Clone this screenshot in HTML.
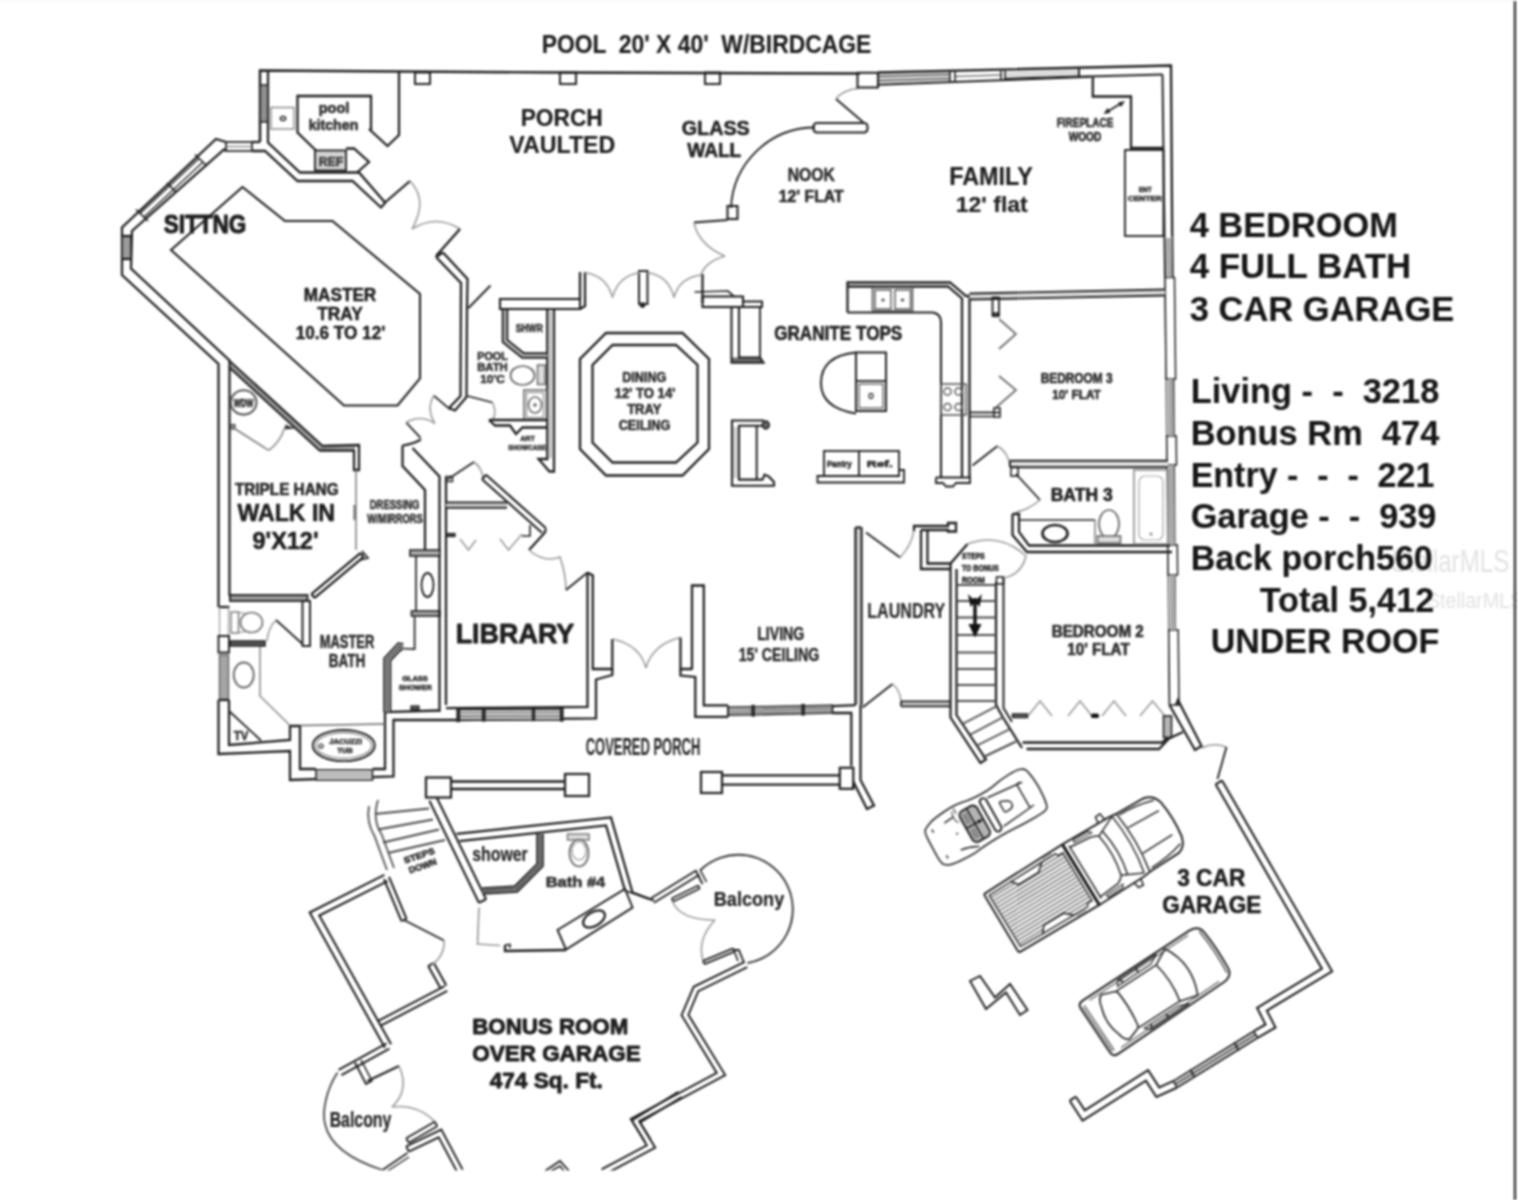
<!DOCTYPE html>
<html><head><meta charset="utf-8"><title>Floor plan</title>
<style>
html,body{margin:0;padding:0;background:#fff;overflow:hidden}
body{width:1518px;height:1200px;position:relative;font-family:"Liberation Sans",sans-serif}
svg{position:absolute;left:0;top:0;filter:blur(0.85px)}
svg text{font-family:"Liberation Sans",sans-serif}
</style></head><body>
<svg width="1518" height="1200" viewBox="0 0 1518 1200" stroke-linejoin="miter" stroke-linecap="butt">
<rect x="0" y="0" width="1518" height="1200" fill="#ffffff"/>
<polyline points="260.0,142.0 260.0,70.5 560.0,72.5 860.0,73.5" fill="none" stroke="#1e1e1e" stroke-width="2.44"/>
<polyline points="268.0,71.5 268.0,142.5 300.0,172.5 359.0,172.5 385.0,202.5" fill="none" stroke="#1e1e1e" stroke-width="2.26"/>
<polyline points="252.0,142.0 260.0,142.0" fill="none" stroke="#1e1e1e" stroke-width="2.26"/>
<polyline points="252.0,151.0 265.0,151.0 297.5,181.0 352.5,181.0 381.0,207.5 385.5,202.5" fill="none" stroke="#1e1e1e" stroke-width="2.26"/>
<rect x="260.0" y="85.0" width="8.0" height="37.0" rx="0" fill="#8f8f8f" stroke="#1e1e1e" stroke-width="1.46"/>
<rect x="271.0" y="107.5" width="23.0" height="21.5" rx="0" fill="none" stroke="#8a8a8a" stroke-width="1.46"/>
<ellipse cx="283" cy="118.5" rx="2.6" ry="2.0" fill="none" stroke="#1e1e1e" stroke-width="1.46"/>
<polyline points="399.0,71.5 399.0,135.0 387.5,146.0 369.0,129.0" fill="none" stroke="#1e1e1e" stroke-width="2.26"/>
<polyline points="371.0,130.0 371.0,96.0 297.5,96.0 297.5,132.5 316.0,150.5" fill="none" stroke="#1e1e1e" stroke-width="2.26"/>
<rect x="315.0" y="150.5" width="31.0" height="20.0" rx="0" fill="#d4d4d4" stroke="#1e1e1e" stroke-width="1.83"/>
<polyline points="346.0,148.5 354.0,148.5 369.0,162.0 357.0,172.5" fill="none" stroke="#1e1e1e" stroke-width="2.26"/>
<rect x="415.0" y="72.5" width="15.0" height="11.5" rx="0" fill="none" stroke="#1e1e1e" stroke-width="1.95"/>
<rect x="560.0" y="72.5" width="16.0" height="11.5" rx="0" fill="none" stroke="#1e1e1e" stroke-width="1.95"/>
<rect x="705.0" y="72.5" width="15.0" height="11.5" rx="0" fill="none" stroke="#1e1e1e" stroke-width="1.95"/>
<text x="318.7" y="113.1" font-size="14.95" font-weight="bold" fill="#333" stroke="#333" stroke-width="0.65" stroke-linejoin="round" textLength="30.6" lengthAdjust="spacingAndGlyphs" xml:space="preserve" >pool</text>
<text x="308.7" y="130.1" font-size="14.95" font-weight="bold" fill="#333" stroke="#333" stroke-width="0.65" stroke-linejoin="round" textLength="49.6" lengthAdjust="spacingAndGlyphs" xml:space="preserve" >kitchen</text>
<text x="318.7" y="165.6" font-size="12.07" font-weight="bold" fill="#444" stroke="#444" stroke-width="0.65" stroke-linejoin="round" textLength="24.6" lengthAdjust="spacingAndGlyphs" xml:space="preserve" >REF</text>
<polyline points="385.0,202.5 410.0,181.0" fill="none" stroke="#1e1e1e" stroke-width="2.26"/>
<path d="M410,181 Q424,196 418,215 Q415,224 412,229" fill="none" stroke="#9a9a9a" stroke-width="1.59" />
<path d="M412,229 Q436,214 460,229" fill="none" stroke="#9a9a9a" stroke-width="1.59" />
<polyline points="460.0,229.0 436.0,256.0" fill="none" stroke="#1e1e1e" stroke-width="2.26"/>
<rect x="226.0" y="142.0" width="26.0" height="9.0" rx="0" fill="none" stroke="#1e1e1e" stroke-width="1.71"/>
<polyline points="226.0,146.5 252.0,146.5" fill="none" stroke="#5a5a5a" stroke-width="0.98"/>
<polyline points="226.0,142.0 216.0,139.0 122.0,227.5 122.0,275.0 218.5,364.0 218.5,607.0" fill="none" stroke="#1e1e1e" stroke-width="2.26"/>
<polyline points="226.0,151.0 224.0,149.5 132.0,231.0 131.0,268.5 229.5,360.5 229.5,596.0" fill="none" stroke="#1e1e1e" stroke-width="2.26"/>
<polyline points="199.0,158.5 140.0,213.5" fill="none" stroke="#1e1e1e" stroke-width="1.22"/>
<polyline points="203.0,162.0 144.0,217.0" fill="none" stroke="#1e1e1e" stroke-width="1.22"/>
<polyline points="195.0,154.5 207.0,166.0" fill="none" stroke="#1e1e1e" stroke-width="1.71"/>
<polyline points="136.0,209.5 148.0,221.0" fill="none" stroke="#1e1e1e" stroke-width="1.71"/>
<polyline points="167.0,183.0 176.0,192.0" fill="none" stroke="#1e1e1e" stroke-width="1.71"/>
<rect x="122.0" y="236.0" width="9.0" height="23.0" rx="0" fill="#9a9a9a" stroke="#1e1e1e" stroke-width="1.46"/>
<polyline points="122.0,236.0 131.0,236.0" fill="none" stroke="#1e1e1e" stroke-width="2.26"/>
<polyline points="122.0,259.0 131.0,259.0" fill="none" stroke="#1e1e1e" stroke-width="2.26"/>
<text x="163.7" y="233.1" font-size="24.94" font-weight="bold" fill="#1e1e1e" stroke="#1e1e1e" stroke-width="1.00" stroke-linejoin="round" textLength="82.6" lengthAdjust="spacingAndGlyphs" xml:space="preserve" >SITTNG</text>
<polygon points="242.5,187.0 171.0,250.0 344.0,405.5 397.5,405.5 420.0,378.5 420.0,294.0 332.5,221.0 285.0,221.0" fill="none" stroke="#1e1e1e" stroke-width="2.07"/>
<text x="303.7" y="300.6" font-size="17.82" font-weight="bold" fill="#1e1e1e" stroke="#1e1e1e" stroke-width="0.45" stroke-linejoin="round" textLength="72.6" lengthAdjust="spacingAndGlyphs" xml:space="preserve" >MASTER</text>
<text x="317.2" y="319.6" font-size="17.82" font-weight="bold" fill="#1e1e1e" stroke="#1e1e1e" stroke-width="0.45" stroke-linejoin="round" textLength="45.6" lengthAdjust="spacingAndGlyphs" xml:space="preserve" >TRAY</text>
<text x="295.7" y="339.4" font-size="18.4" font-weight="bold" fill="#1e1e1e" stroke="#1e1e1e" stroke-width="0.45" stroke-linejoin="round" textLength="89.6" lengthAdjust="spacingAndGlyphs" xml:space="preserve" >10.6 TO 12'</text>
<polyline points="229.5,361.0 322.5,446.0 359.0,445.0 359.0,470.0 354.0,470.0 354.0,450.5 320.0,450.5 229.5,367.5" fill="none" stroke="#1e1e1e" stroke-width="2.26"/>
<polyline points="229.5,364.3 321.3,448.3 355.0,447.8" fill="none" stroke="#444" stroke-width="1.10"/>
<polyline points="356.0,470.0 356.0,550.0" fill="none" stroke="#777" stroke-width="1.46"/>
<polyline points="354.5,505.0 354.5,520.0" fill="none" stroke="#666" stroke-width="1.95"/>
<polyline points="360.4,553.1 311.4,594.1" fill="none" stroke="#1e1e1e" stroke-width="2.26"/>
<polyline points="363.6,556.9 314.6,597.9" fill="none" stroke="#1e1e1e" stroke-width="2.26"/>
<polyline points="360.4,553.1 363.6,556.9" fill="none" stroke="#1e1e1e" stroke-width="2.26"/>
<polyline points="311.4,594.1 314.6,597.9" fill="none" stroke="#1e1e1e" stroke-width="2.26"/>
<polyline points="362.0,551.0 368.0,558.0 360.0,560.0" fill="none" stroke="#1e1e1e" stroke-width="1.71"/>
<ellipse cx="243.6" cy="402.4" rx="12.8" ry="12.2" fill="none" stroke="#555" stroke-width="2.07"/>
<text x="233.7" y="406.6" font-size="10.08" font-weight="bold" fill="#2a2a2a" stroke="#2a2a2a" stroke-width="0.65" stroke-linejoin="round" textLength="19.6" lengthAdjust="spacingAndGlyphs" xml:space="preserve" >WDW</text>
<rect x="230.5" y="424.5" width="4.5" height="4.5" rx="0" fill="#888" stroke="#555" stroke-width="1.22"/>
<polygon points="285,424.5 295.5,428.5 285,429.5" fill="#333"/>
<polyline points="234.5,428.5 268.7,450.4" fill="none" stroke="#7d7d7d" stroke-width="1.71"/>
<path d="M268.7,450.4 Q281,441 284.5,427.7" fill="none" stroke="#9a9a9a" stroke-width="1.83" />
<text x="235.0" y="495.1" font-size="16.1" font-weight="bold" fill="#2a2a2a" stroke="#2a2a2a" stroke-width="0.65" stroke-linejoin="round" textLength="103.6" lengthAdjust="spacingAndGlyphs" xml:space="preserve" >TRIPLE HANG</text>
<text x="237.5" y="521.3" font-size="23.43" font-weight="bold" fill="#1e1e1e" stroke="#1e1e1e" stroke-width="0.60" stroke-linejoin="round" textLength="97.5" lengthAdjust="spacingAndGlyphs" xml:space="preserve" >WALK IN</text>
<text x="252.5" y="549.4" font-size="23.66" font-weight="bold" fill="#1e1e1e" stroke="#1e1e1e" stroke-width="0.60" stroke-linejoin="round" textLength="66.0" lengthAdjust="spacingAndGlyphs" xml:space="preserve" >9'X12'</text>
<text x="369.7" y="508.6" font-size="12.65" font-weight="bold" fill="#333" stroke="#333" stroke-width="0.65" stroke-linejoin="round" textLength="49.6" lengthAdjust="spacingAndGlyphs" xml:space="preserve" >DRESSING</text>
<text x="367.2" y="522.6" font-size="12.65" font-weight="bold" fill="#333" stroke="#333" stroke-width="0.65" stroke-linejoin="round" textLength="55.6" lengthAdjust="spacingAndGlyphs" xml:space="preserve" >W/MIRRORS</text>
<polyline points="218.5,607.0 229.5,607.0" fill="none" stroke="#1e1e1e" stroke-width="2.26"/>
<polyline points="219.5,607.0 219.5,636.0" fill="none" stroke="#999" stroke-width="1.22"/>
<polyline points="228.5,607.0 228.5,636.0" fill="none" stroke="#999" stroke-width="1.22"/>
<rect x="218.5" y="636.0" width="10.5" height="16.5" rx="0" fill="none" stroke="#1e1e1e" stroke-width="1.95"/>
<rect x="219.5" y="655.0" width="9.0" height="45.0" rx="0" fill="#a5a5a5" stroke="#666" stroke-width="1.46"/>
<polyline points="218.5,700.0 218.5,754.0 290.0,751.0 290.0,780.0 393.5,776.5 393.5,720.0 457.5,720.0" fill="none" stroke="#1e1e1e" stroke-width="2.26"/>
<polyline points="229.0,700.0 229.0,745.0 290.0,740.0 290.0,726.0 300.0,726.0 300.0,769.0 316.0,769.0" fill="none" stroke="#1e1e1e" stroke-width="2.26"/>
<polyline points="218.5,700.0 229.0,700.0" fill="none" stroke="#1e1e1e" stroke-width="2.26"/>
<polyline points="372.5,769.0 385.0,769.0 385.0,712.0 439.5,710.5" fill="none" stroke="#1e1e1e" stroke-width="2.26"/>
<rect x="316.0" y="770.0" width="56.5" height="10.0" rx="0" fill="#f0f0f0" stroke="#1e1e1e" stroke-width="1.59"/>
<polyline points="316.0,773.5 372.5,773.5" fill="none" stroke="#555" stroke-width="1.10"/>
<polyline points="316.0,776.5 372.5,776.5" fill="none" stroke="#555" stroke-width="1.10"/>
<polyline points="300.0,725.5 385.0,724.0" fill="none" stroke="#666" stroke-width="1.59"/>
<ellipse cx="343.75" cy="745.5" rx="31" ry="15.6" fill="none" stroke="#1e1e1e" stroke-width="1.95"/>
<ellipse cx="343.75" cy="745.5" rx="28" ry="12.8" fill="none" stroke="#777" stroke-width="1.22"/>
<ellipse cx="321" cy="746" rx="2" ry="2" fill="none" stroke="#1e1e1e" stroke-width="1.22"/>
<text x="329.2" y="744.1" font-size="6.72" font-weight="bold" fill="#444" stroke="#444" stroke-width="0.65" stroke-linejoin="round" textLength="32.6" lengthAdjust="spacingAndGlyphs" xml:space="preserve" >JACUZZI</text>
<text x="337.2" y="752.6" font-size="6.72" font-weight="bold" fill="#444" stroke="#444" stroke-width="0.65" stroke-linejoin="round" textLength="15.6" lengthAdjust="spacingAndGlyphs" xml:space="preserve" >TUB</text>
<polyline points="229.0,711.0 261.0,740.5" fill="none" stroke="#1e1e1e" stroke-width="1.71"/>
<text x="233.7" y="740.1" font-size="13.22" font-weight="bold" fill="#333" stroke="#333" stroke-width="0.65" stroke-linejoin="round" textLength="14.6" lengthAdjust="spacingAndGlyphs" xml:space="preserve" >TV</text>
<polyline points="260.0,642.5 260.0,696.0 290.0,725.5" fill="none" stroke="#8c8c8c" stroke-width="1.59"/>
<ellipse cx="243.75" cy="675" rx="10" ry="12.5" fill="none" stroke="#666" stroke-width="1.83"/>
<rect x="231.0" y="612.0" width="7.5" height="21.0" rx="0" fill="none" stroke="#777" stroke-width="1.46"/>
<ellipse cx="251.5" cy="622.5" rx="11" ry="10" fill="none" stroke="#777" stroke-width="1.71"/>
<polyline points="238.5,612.5 246.0,613.5" fill="none" stroke="#888" stroke-width="1.22"/>
<polyline points="238.5,632.5 246.0,631.5" fill="none" stroke="#888" stroke-width="1.22"/>
<rect x="230.0" y="595.0" width="77.5" height="6.0" rx="0" fill="#9c9c9c" stroke="#1e1e1e" stroke-width="1.83"/>
<rect x="302.5" y="601.0" width="7.5" height="45.0" rx="0" fill="none" stroke="#1e1e1e" stroke-width="1.95"/>
<polyline points="302.5,644.0 276.0,620.0" fill="none" stroke="#1e1e1e" stroke-width="1.71"/>
<path d="M276,620 Q268,628 267,641" fill="none" stroke="#9a9a9a" stroke-width="1.59" />
<rect x="230.0" y="641.0" width="35.0" height="5.0" rx="0" fill="#555" stroke="#1e1e1e" stroke-width="1.46"/>
<text x="319.7" y="648.1" font-size="17.82" font-weight="bold" fill="#2a2a2a" stroke="#2a2a2a" stroke-width="0.45" stroke-linejoin="round" textLength="54.6" lengthAdjust="spacingAndGlyphs" xml:space="preserve" >MASTER</text>
<text x="328.7" y="666.6" font-size="17.82" font-weight="bold" fill="#2a2a2a" stroke="#2a2a2a" stroke-width="0.45" stroke-linejoin="round" textLength="36.6" lengthAdjust="spacingAndGlyphs" xml:space="preserve" >BATH</text>
<polyline points="416.0,556.0 416.0,611.0" fill="none" stroke="#1e1e1e" stroke-width="1.71"/>
<ellipse cx="427.5" cy="585" rx="6" ry="12" fill="none" stroke="#1e1e1e" stroke-width="1.83"/>
<rect x="410.0" y="550.0" width="30.0" height="6.0" rx="0" fill="#a8a8a8" stroke="#1e1e1e" stroke-width="1.59"/>
<rect x="411.5" y="611.0" width="28.5" height="5.0" rx="0" fill="#a8a8a8" stroke="#1e1e1e" stroke-width="1.59"/>
<polyline points="414.6,617.0 414.6,649.0 402.0,648.5" fill="none" stroke="#1e1e1e" stroke-width="1.71"/>
<polygon points="403.4,643.9 398.3,643.2 384.2,658.3 384.2,712.0 390.4,712.0 390.4,660.7 400.7,649.8 402.6,650.1" fill="#c6c6c6" stroke="none"/>
<polyline points="403.4,643.9 398.3,643.2 384.2,658.3 384.2,712.0" fill="none" stroke="#1e1e1e" stroke-width="1.83"/>
<polyline points="402.6,650.1 400.7,649.8 390.4,660.7 390.4,712.0" fill="none" stroke="#1e1e1e" stroke-width="1.83"/>
<polyline points="403.0,647.0 399.5,646.5 387.3,659.5 387.3,712.0" fill="none" stroke="#1e1e1e" stroke-width="1.28"/>
<text x="402.2" y="680.9" font-size="7.62" font-weight="bold" fill="#3a3a3a" stroke="#3a3a3a" stroke-width="0.65" stroke-linejoin="round" textLength="25.6" lengthAdjust="spacingAndGlyphs" xml:space="preserve" >GLASS</text>
<text x="398.7" y="690.4" font-size="7.62" font-weight="bold" fill="#3a3a3a" stroke="#3a3a3a" stroke-width="0.65" stroke-linejoin="round" textLength="33.1" lengthAdjust="spacingAndGlyphs" xml:space="preserve" >SHOWER</text>
<rect x="411.0" y="706.0" width="8.0" height="4.0" rx="0" fill="#555" stroke="#1e1e1e" stroke-width="1.22"/>
<polyline points="436.0,257.0 443.0,252.5" fill="none" stroke="#1e1e1e" stroke-width="2.26"/>
<polyline points="436.0,257.0 461.0,283.0 460.5,396.0 449.0,408.0" fill="none" stroke="#1e1e1e" stroke-width="2.26"/>
<polyline points="443.0,252.5 467.5,279.0 467.0,307.0 466.5,397.0 455.0,410.5 449.0,408.0" fill="none" stroke="#1e1e1e" stroke-width="2.26"/>
<polyline points="468.5,308.0 490.5,285.5" fill="none" stroke="#1e1e1e" stroke-width="1.83"/>
<polyline points="467.5,396.0 492.5,402.5" fill="none" stroke="#1e1e1e" stroke-width="1.71"/>
<path d="M492.5,402.5 Q497,412 493,419" fill="none" stroke="#9a9a9a" stroke-width="1.59" />
<polyline points="433.8,395.6 450.0,409.4" fill="none" stroke="#1e1e1e" stroke-width="1.83"/>
<polyline points="406.2,422.5 420.5,437.8" fill="none" stroke="#1e1e1e" stroke-width="1.83"/>
<path d="M433.75,395.6 Q426,409 435,423.5" fill="none" stroke="#9a9a9a" stroke-width="1.59" />
<path d="M406.25,422.5 Q421,414 435,423.5" fill="none" stroke="#9a9a9a" stroke-width="1.59" />
<rect x="500.0" y="299.0" width="80.0" height="10.0" rx="0" fill="#ffffff" stroke="#1e1e1e" stroke-width="2.07"/>
<polyline points="580.0,272.0 580.0,299.0" fill="none" stroke="#1e1e1e" stroke-width="2.26"/>
<polyline points="585.0,272.0 585.0,306.0 580.0,309.0" fill="none" stroke="#1e1e1e" stroke-width="2.26"/>
<polyline points="547.3,309.0 547.3,459.0 538.5,459.0 549.5,471.5 554.0,471.5 554.0,309.0" fill="none" stroke="#1e1e1e" stroke-width="2.26"/>
<polyline points="550.6,311.0 550.6,458.0" fill="none" stroke="#777" stroke-width="1.10"/>
<polygon points="502.7,310.0 502.7,342.1 522.2,357.8 547.3,357.8 547.3,353.2 523.8,353.2 507.3,339.9 507.3,310.0" fill="#bdbdbd" stroke="none"/>
<polyline points="502.7,310.0 502.7,342.1 522.2,357.8 547.3,357.8" fill="none" stroke="#1e1e1e" stroke-width="1.95"/>
<polyline points="507.3,310.0 507.3,339.9 523.8,353.2 547.3,353.2" fill="none" stroke="#1e1e1e" stroke-width="1.95"/>
<text x="515.7" y="331.6" font-size="10.64" font-weight="bold" fill="#3a3a3a" stroke="#3a3a3a" stroke-width="0.65" stroke-linejoin="round" textLength="27.1" lengthAdjust="spacingAndGlyphs" xml:space="preserve" >SHWR</text>
<text x="477.2" y="359.6" font-size="10.64" font-weight="bold" fill="#3a3a3a" stroke="#3a3a3a" stroke-width="0.65" stroke-linejoin="round" textLength="30.6" lengthAdjust="spacingAndGlyphs" xml:space="preserve" >POOL</text>
<text x="477.2" y="371.1" font-size="10.64" font-weight="bold" fill="#3a3a3a" stroke="#3a3a3a" stroke-width="0.65" stroke-linejoin="round" textLength="30.6" lengthAdjust="spacingAndGlyphs" xml:space="preserve" >BATH</text>
<text x="480.2" y="383.1" font-size="10.64" font-weight="bold" fill="#3a3a3a" stroke="#3a3a3a" stroke-width="0.65" stroke-linejoin="round" textLength="24.6" lengthAdjust="spacingAndGlyphs" xml:space="preserve" >10'C</text>
<ellipse cx="522.5" cy="375.5" rx="12" ry="9.5" fill="none" stroke="#666" stroke-width="1.71"/>
<rect x="537.5" y="365.0" width="7.5" height="19.5" rx="0" fill="#ddd" stroke="#666" stroke-width="1.46"/>
<rect x="524.0" y="390.0" width="22.5" height="30.0" rx="0" fill="none" stroke="#666" stroke-width="1.59"/>
<rect x="526.5" y="392.5" width="17.0" height="25.0" rx="0" fill="none" stroke="#888" stroke-width="1.22"/>
<ellipse cx="535" cy="405" rx="6.5" ry="8" fill="none" stroke="#666" stroke-width="1.59"/>
<ellipse cx="535" cy="405" rx="1.2" ry="1.2" fill="#666" stroke="#666" stroke-width="1.22"/>
<polyline points="489.0,420.0 547.3,420.0" fill="none" stroke="#1e1e1e" stroke-width="2.26"/>
<polyline points="489.0,420.0 495.0,425.5 510.0,425.5 516.0,434.0 522.5,427.5 547.3,427.5" fill="none" stroke="#1e1e1e" stroke-width="2.26"/>
<text x="520.2" y="441.1" font-size="6.72" font-weight="bold" fill="#444" stroke="#444" stroke-width="0.65" stroke-linejoin="round" textLength="14.6" lengthAdjust="spacingAndGlyphs" xml:space="preserve" >ART</text>
<text x="508.2" y="449.6" font-size="6.72" font-weight="bold" fill="#444" stroke="#444" stroke-width="0.65" stroke-linejoin="round" textLength="37.6" lengthAdjust="spacingAndGlyphs" xml:space="preserve" >SHOWCASE</text>
<rect x="639.0" y="271.0" width="8.5" height="33.0" rx="0" fill="none" stroke="#1e1e1e" stroke-width="1.95"/>
<ellipse cx="642.5" cy="305" rx="2.2" ry="2.2" fill="#222" stroke="#222" stroke-width="1.22"/>
<path d="M585,272.5 Q607,276 612.5,297.5" fill="none" stroke="#9a9a9a" stroke-width="1.59" />
<path d="M640,272.5 Q618,276 612.5,297.5" fill="none" stroke="#9a9a9a" stroke-width="1.59" />
<path d="M647.5,272.5 Q669,276 674,297.5" fill="none" stroke="#9a9a9a" stroke-width="1.59" />
<path d="M701,275 Q679,278 674,297.5" fill="none" stroke="#9a9a9a" stroke-width="1.59" />
<polyline points="702.5,274.0 702.5,303.0" fill="none" stroke="#1e1e1e" stroke-width="2.26"/>
<polyline points="694.5,292.0 728.0,291.0 734.0,296.5" fill="none" stroke="#1e1e1e" stroke-width="1.71"/>
<rect x="702.5" y="296.5" width="40.5" height="10.5" rx="0" fill="none" stroke="#1e1e1e" stroke-width="2.07"/>
<polyline points="743.0,301.5 762.0,301.5 762.0,307.0 743.0,307.0" fill="none" stroke="#1e1e1e" stroke-width="1.95"/>
<polygon points="731.5,357.5 760,357.5 763.5,362.8 731.5,362.8" fill="#6e6e6e"/>
<polyline points="731.5,307.0 731.5,362.8 763.5,362.8 760.0,357.5 739.0,357.5 739.0,307.0" fill="none" stroke="#1e1e1e" stroke-width="2.07"/>
<polyline points="760.0,307.0 760.0,357.5" fill="none" stroke="#1e1e1e" stroke-width="1.83"/>
<rect x="733.3" y="427" width="4.4" height="51" fill="#cfcfcf"/>
<polyline points="764.0,420.5 732.0,420.5 732.0,485.8 774.0,485.8 774.0,482.0 769.0,476.7 764.5,474.6 762.5,479.6 739.0,479.6 739.0,425.8 762.0,425.8" fill="none" stroke="#1e1e1e" stroke-width="2.07"/>
<polyline points="756.7,425.8 756.7,479.6" fill="none" stroke="#1e1e1e" stroke-width="1.95"/>
<ellipse cx="765.8" cy="425" rx="3.3" ry="3.8" fill="#6a6a6a" stroke="#1e1e1e" stroke-width="1.71"/>
<polygon points="606.0,333.0 682.5,333.0 709.0,359.0 709.0,449.0 682.5,475.5 606.0,475.5 580.0,449.0 580.0,359.0" fill="none" stroke="#1e1e1e" stroke-width="2.32"/>
<polygon points="612.5,345.0 676.0,345.0 697.5,365.0 697.5,442.5 676.0,462.5 612.5,462.5 592.5,442.5 592.5,365.0" fill="none" stroke="#1e1e1e" stroke-width="2.32"/>
<text x="622.2" y="381.6" font-size="13.8" font-weight="bold" fill="#333" stroke="#333" stroke-width="0.65" stroke-linejoin="round" textLength="44.1" lengthAdjust="spacingAndGlyphs" xml:space="preserve" >DINING</text>
<text x="614.7" y="398.1" font-size="13.8" font-weight="bold" fill="#333" stroke="#333" stroke-width="0.65" stroke-linejoin="round" textLength="60.6" lengthAdjust="spacingAndGlyphs" xml:space="preserve" >12' TO 14'</text>
<text x="627.2" y="413.6" font-size="13.8" font-weight="bold" fill="#333" stroke="#333" stroke-width="0.65" stroke-linejoin="round" textLength="34.1" lengthAdjust="spacingAndGlyphs" xml:space="preserve" >TRAY</text>
<text x="618.7" y="430.1" font-size="13.8" font-weight="bold" fill="#333" stroke="#333" stroke-width="0.65" stroke-linejoin="round" textLength="51.6" lengthAdjust="spacingAndGlyphs" xml:space="preserve" >CEILING</text>
<path d="M402.5,445.5 Q413,444 421,439.5" fill="none" stroke="#1e1e1e" stroke-width="2.07" />
<polyline points="412.5,448.0 439.5,476.5 439.5,550.0" fill="none" stroke="#1e1e1e" stroke-width="2.26"/>
<polyline points="402.5,445.5 402.5,466.0 425.0,490.0 425.0,550.0" fill="none" stroke="#1e1e1e" stroke-width="2.26"/>
<polyline points="446.0,477.0 446.0,705.0" fill="none" stroke="#1e1e1e" stroke-width="2.26"/>
<polyline points="439.5,556.0 439.5,712.0" fill="none" stroke="#1e1e1e" stroke-width="2.26"/>
<rect x="446.0" y="476.5" width="6.5" height="5.0" rx="0" fill="none" stroke="#1e1e1e" stroke-width="1.46"/>
<polyline points="447.5,479.5 474.0,462.0" fill="none" stroke="#1e1e1e" stroke-width="1.71"/>
<path d="M474,462 Q482,468 483,478" fill="none" stroke="#9a9a9a" stroke-width="1.59" />
<polygon points="446.0,507.9 507.0,507.9 507.0,502.4 446.0,502.4" fill="#c4c4c4" stroke="none"/>
<polyline points="446.0,507.9 507.0,507.9" fill="none" stroke="#1e1e1e" stroke-width="1.83"/>
<polyline points="446.0,502.4 507.0,502.4" fill="none" stroke="#1e1e1e" stroke-width="1.83"/>
<polyline points="482.0,479.2 542.0,532.7" fill="none" stroke="#1e1e1e" stroke-width="2.07"/>
<polyline points="486.0,474.8 546.0,528.3" fill="none" stroke="#1e1e1e" stroke-width="2.07"/>
<polyline points="482.0,479.2 486.0,474.8" fill="none" stroke="#1e1e1e" stroke-width="2.07"/>
<polyline points="546.0,529.0 544.5,533.0 529.0,550.0" fill="none" stroke="#1e1e1e" stroke-width="2.26"/>
<polyline points="530.0,525.0 530.0,536.0 522.0,536.0" fill="none" stroke="#1e1e1e" stroke-width="1.59"/>
<rect x="446.0" y="533.5" width="9.0" height="3.0" rx="0" fill="#444" stroke="#1e1e1e" stroke-width="1.22"/>
<polyline points="460.0,539.0 468.5,550.0 476.0,540.0" fill="none" stroke="#9a9a9a" stroke-width="1.59"/>
<polyline points="500.0,539.0 508.5,550.0 522.0,534.0" fill="none" stroke="#9a9a9a" stroke-width="1.59"/>
<path d="M530,551 Q545,563 560,557 Q566,575 566,590" fill="none" stroke="#9a9a9a" stroke-width="1.59" />
<polyline points="566.0,590.0 587.5,572.5" fill="none" stroke="#1e1e1e" stroke-width="1.83"/>
<polyline points="587.5,572.5 592.8,575.5 592.8,669.0 612.3,669.0 612.3,639.0" fill="none" stroke="#1e1e1e" stroke-width="2.26"/>
<polyline points="587.5,572.5 587.5,706.8 446.0,708.2" fill="none" stroke="#1e1e1e" stroke-width="2.26"/>
<polyline points="612.3,669.0 612.3,675.0 596.0,679.5 596.0,718.3 457.5,720.0" fill="none" stroke="#1e1e1e" stroke-width="2.26"/>
<rect x="458.5" y="709.3" width="103.5" height="10.7" rx="0" fill="#dedede" stroke="#1e1e1e" stroke-width="1.59"/>
<polyline points="458.5,712.8 562.0,712.8" fill="none" stroke="#444" stroke-width="1.10"/>
<polyline points="458.5,716.4 562.0,716.4" fill="none" stroke="#444" stroke-width="1.10"/>
<rect x="482.5" y="707.5" width="2.5" height="13.5" rx="0" fill="#333" stroke="#1e1e1e" stroke-width="1.22"/>
<rect x="532.5" y="708.0" width="2.0" height="12.5" rx="0" fill="#444" stroke="#1e1e1e" stroke-width="1.22"/>
<rect x="560.5" y="707.5" width="2.5" height="13.5" rx="0" fill="#333" stroke="#1e1e1e" stroke-width="1.22"/>
<rect x="457.0" y="708.0" width="2.5" height="13.5" rx="0" fill="#333" stroke="#1e1e1e" stroke-width="1.22"/>
<text x="455.7" y="643.1" font-size="28.42" font-weight="bold" fill="#1e1e1e" stroke="#1e1e1e" stroke-width="0.80" stroke-linejoin="round" textLength="118.6" lengthAdjust="spacingAndGlyphs" xml:space="preserve" >LIBRARY</text>
<path d="M612.5,639 Q640,645 646,668" fill="none" stroke="#9a9a9a" stroke-width="1.59" />
<path d="M680,637.5 Q652,645 646,668" fill="none" stroke="#9a9a9a" stroke-width="1.59" />
<polyline points="680.5,637.5 680.5,669.0 692.5,669.0" fill="none" stroke="#1e1e1e" stroke-width="2.26"/>
<polyline points="680.5,669.0 680.5,675.5 695.3,677.0 695.3,716.9 728.0,716.9" fill="none" stroke="#1e1e1e" stroke-width="2.26"/>
<polyline points="692.0,669.0 692.0,585.5 703.8,585.5 703.8,705.4 728.0,705.4" fill="none" stroke="#1e1e1e" stroke-width="2.26"/>
<polygon points="728,707.3 832.5,705.3 832.5,713 728,715.3" fill="#dcdcdc"/>
<polyline points="728.0,707.3 832.5,705.3" fill="none" stroke="#1e1e1e" stroke-width="1.59"/>
<polyline points="728.0,715.3 832.5,713.0" fill="none" stroke="#1e1e1e" stroke-width="1.59"/>
<polyline points="728.0,710.0 832.5,707.9" fill="none" stroke="#444" stroke-width="1.10"/>
<polyline points="728.0,712.7 832.5,710.5" fill="none" stroke="#444" stroke-width="1.10"/>
<polyline points="728.0,705.4 728.0,716.9" fill="none" stroke="#1e1e1e" stroke-width="1.83"/>
<rect x="752.0" y="705.5" width="2.2" height="10.5" rx="0" fill="#333" stroke="#1e1e1e" stroke-width="1.22"/>
<rect x="802.0" y="704.5" width="2.2" height="10.5" rx="0" fill="#333" stroke="#1e1e1e" stroke-width="1.22"/>
<polyline points="832.5,704.5 832.5,714.0" fill="none" stroke="#1e1e1e" stroke-width="1.71"/>
<polyline points="832.5,706.2 855.5,705.2" fill="none" stroke="#1e1e1e" stroke-width="2.26"/>
<polyline points="832.5,713.0 851.3,712.8 851.3,766.0" fill="none" stroke="#1e1e1e" stroke-width="2.26"/>
<text x="757.2" y="639.6" font-size="17.82" font-weight="bold" fill="#2a2a2a" stroke="#2a2a2a" stroke-width="0.45" stroke-linejoin="round" textLength="47.1" lengthAdjust="spacingAndGlyphs" xml:space="preserve" >LIVING</text>
<text x="738.7" y="660.6" font-size="17.82" font-weight="bold" fill="#2a2a2a" stroke="#2a2a2a" stroke-width="0.45" stroke-linejoin="round" textLength="80.6" lengthAdjust="spacingAndGlyphs" xml:space="preserve" >15' CEILING</text>
<text x="585.7" y="754.6" font-size="24.36" font-weight="bold" fill="#2a2a2a" stroke="#2a2a2a" stroke-width="0.20" stroke-linejoin="round" textLength="114.6" lengthAdjust="spacingAndGlyphs" xml:space="preserve" >COVERED PORCH</text>
<path d="M731,208 A84,84 0 0 1 815,127.5" fill="none" stroke="#1e1e1e" stroke-width="1.77" />
<rect x="727.5" y="206.0" width="10.0" height="13.0" rx="0" fill="none" stroke="#1e1e1e" stroke-width="2.07"/>
<polyline points="694.0,222.5 727.5,220.0" fill="none" stroke="#1e1e1e" stroke-width="1.83"/>
<path d="M694,223.5 Q700,246 725,256" fill="none" stroke="#9a9a9a" stroke-width="1.59" />
<path d="M725,256 Q705,262 701,275" fill="none" stroke="#9a9a9a" stroke-width="1.59" />
<rect x="813.5" y="123.0" width="54.0" height="9.5" rx="3.5" fill="none" stroke="#1e1e1e" stroke-width="2.07"/>
<polyline points="836.0,99.0 863.0,122.0" fill="none" stroke="#1e1e1e" stroke-width="1.83"/>
<path d="M836,98.5 Q844,89.5 858,88.5" fill="none" stroke="#9a9a9a" stroke-width="1.59" />
<text x="681.7" y="134.6" font-size="20.12" font-weight="bold" fill="#222" stroke="#222" stroke-width="0.55" stroke-linejoin="round" textLength="68.1" lengthAdjust="spacingAndGlyphs" xml:space="preserve" >GLASS</text>
<text x="687.2" y="156.6" font-size="20.12" font-weight="bold" fill="#222" stroke="#222" stroke-width="0.55" stroke-linejoin="round" textLength="54.1" lengthAdjust="spacingAndGlyphs" xml:space="preserve" >WALL</text>
<text x="787.7" y="181.3" font-size="17.94" font-weight="bold" fill="#2a2a2a" stroke="#2a2a2a" stroke-width="0.45" stroke-linejoin="round" textLength="47.1" lengthAdjust="spacingAndGlyphs" xml:space="preserve" >NOOK</text>
<text x="778.7" y="201.6" font-size="16.9" font-weight="bold" fill="#2a2a2a" stroke="#2a2a2a" stroke-width="0.65" stroke-linejoin="round" textLength="65.1" lengthAdjust="spacingAndGlyphs" xml:space="preserve" >12' FLAT</text>
<text x="541.7" y="52.8" font-size="25.06" font-weight="bold" fill="#1e1e1e" stroke="#1e1e1e" stroke-width="0.20" stroke-linejoin="round" textLength="329.6" lengthAdjust="spacingAndGlyphs" xml:space="preserve" >POOL  20' X 40'  W/BIRDCAGE</text>
<text x="520.7" y="125.6" font-size="23.2" font-weight="bold" fill="#1e1e1e" stroke="#1e1e1e" stroke-width="0.20" stroke-linejoin="round" textLength="82.1" lengthAdjust="spacingAndGlyphs" xml:space="preserve" >PORCH</text>
<text x="509.2" y="153.1" font-size="23.2" font-weight="bold" fill="#1e1e1e" stroke="#1e1e1e" stroke-width="0.20" stroke-linejoin="round" textLength="106.1" lengthAdjust="spacingAndGlyphs" xml:space="preserve" >VAULTED</text>
<polygon points="878,73.5 950,71.5 950,81 878,84" fill="#dcdcdc"/>
<polygon points="1005,71.5 1079,69.5 1079,77 1005,79.5" fill="#dcdcdc"/>
<rect x="857.5" y="72.8" width="20.5" height="14.7" rx="0" fill="none" stroke="#1e1e1e" stroke-width="2.07"/>
<polyline points="878.0,72.5 1171.0,65.5 1175.5,705.0" fill="none" stroke="#1e1e1e" stroke-width="2.32"/>
<polyline points="878.0,84.8 1090.0,76.8" fill="none" stroke="#1e1e1e" stroke-width="1.95"/>
<polyline points="878.0,76.5 950.0,74.5" fill="none" stroke="#1e1e1e" stroke-width="1.22"/>
<polyline points="878.0,80.5 950.0,78.5" fill="none" stroke="#1e1e1e" stroke-width="1.22"/>
<polyline points="955.0,76.5 1001.0,75.0" fill="none" stroke="#777" stroke-width="1.46"/>
<polyline points="1005.0,78.5 1079.0,76.0" fill="none" stroke="#1e1e1e" stroke-width="1.22"/>
<polyline points="950.0,72.0 950.0,82.0" fill="none" stroke="#1e1e1e" stroke-width="1.59"/>
<polyline points="955.0,72.0 955.0,82.0" fill="none" stroke="#1e1e1e" stroke-width="1.59"/>
<polyline points="1001.0,70.5 1001.0,80.5" fill="none" stroke="#1e1e1e" stroke-width="1.59"/>
<polyline points="1005.0,70.5 1005.0,80.5" fill="none" stroke="#1e1e1e" stroke-width="1.59"/>
<polyline points="1079.0,69.0 1079.0,76.8 1162.5,74.5" fill="none" stroke="#1e1e1e" stroke-width="1.95"/>
<polyline points="1092.8,76.0 1092.8,96.5 1131.0,96.5 1131.0,147.8 1163.5,147.8" fill="none" stroke="#1e1e1e" stroke-width="2.26"/>
<polyline points="1162.5,74.5 1165.0,277.0" fill="none" stroke="#1e1e1e" stroke-width="1.95"/>
<polyline points="1122.5,102.5 1106.0,112.5" fill="none" stroke="#1e1e1e" stroke-width="1.83"/>
<polygon points="1125,101 1118,102.5 1121,107" fill="#222"/><polygon points="1103.5,114 1110.5,112.8 1107.5,108" fill="#222"/>
<text x="1056.7" y="126.6" font-size="13.68" font-weight="bold" fill="#2e2e2e" stroke="#2e2e2e" stroke-width="0.65" stroke-linejoin="round" textLength="56.6" lengthAdjust="spacingAndGlyphs" xml:space="preserve" >FIREPLACE</text>
<text x="1068.7" y="141.4" font-size="12.3" font-weight="bold" fill="#2e2e2e" stroke="#2e2e2e" stroke-width="0.65" stroke-linejoin="round" textLength="32.6" lengthAdjust="spacingAndGlyphs" xml:space="preserve" >WOOD</text>
<rect x="1125.0" y="150.0" width="38.5" height="86.0" rx="0" fill="none" stroke="#1e1e1e" stroke-width="1.83"/>
<text x="1138.7" y="192.1" font-size="6.72" font-weight="bold" fill="#444" stroke="#444" stroke-width="0.65" stroke-linejoin="round" textLength="13.1" lengthAdjust="spacingAndGlyphs" xml:space="preserve" >ENT</text>
<text x="1127.7" y="200.6" font-size="6.72" font-weight="bold" fill="#444" stroke="#444" stroke-width="0.65" stroke-linejoin="round" textLength="34.1" lengthAdjust="spacingAndGlyphs" xml:space="preserve" >CENTER</text>
<text x="949.2" y="184.6" font-size="24.94" font-weight="bold" fill="#1e1e1e" stroke="#1e1e1e" stroke-width="0.20" stroke-linejoin="round" textLength="83.6" lengthAdjust="spacingAndGlyphs" xml:space="preserve" >FAMILY</text>
<text x="955.7" y="211.6" font-size="22.04" font-weight="bold" fill="#1e1e1e" stroke="#1e1e1e" stroke-width="0.20" stroke-linejoin="round" textLength="72.1" lengthAdjust="spacingAndGlyphs" xml:space="preserve" >12' flat</text>
<polyline points="1165.0,277.0 1169.5,705.0" fill="none" stroke="#7a7a7a" stroke-width="1.59"/>
<polyline points="1171.5,236.0 1171.5,277.0" fill="none" stroke="#999" stroke-width="1.22"/>
<polygon points="1165.0,277.5 1174.5,277.5 1175.6,379 1166.1,379" fill="#fff" stroke="#1e1e1e" stroke-width="1.5"/>
<polygon points="1166.7,436 1176.2,436 1176.5,465 1167.0,465" fill="#fff" stroke="#1e1e1e" stroke-width="1.5"/>
<polygon points="1167.8,545 1177.3,545 1177.6,575 1168.1,575" fill="#fff" stroke="#1e1e1e" stroke-width="1.5"/>
<polygon points="1168.7,630 1178.2,630 1179.0,705 1169.5,705" fill="#fff" stroke="#1e1e1e" stroke-width="1.5"/>
<line x1="1168.9" y1="238" x2="1169.3" y2="277.5" stroke="#a9a9a9" stroke-width="5.6"/>
<line x1="1170.4" y1="379" x2="1171.0" y2="436" stroke="#a9a9a9" stroke-width="5.6"/>
<line x1="1171.3" y1="465" x2="1172.1" y2="545" stroke="#a9a9a9" stroke-width="5.6"/>
<line x1="1172.4" y1="575" x2="1173.0" y2="630" stroke="#a9a9a9" stroke-width="5.6"/>
<polyline points="847.5,312.5 847.5,282.5 950.0,282.5 966.0,296.0 969.5,296.0 969.5,477.5" fill="none" stroke="#1e1e1e" stroke-width="2.26"/>
<polyline points="847.5,286.5 948.0,286.5 962.0,298.5 962.0,477.5" fill="none" stroke="#1e1e1e" stroke-width="2.26"/>
<path d="M847.5,312.5 L932.5,312.5 Q941,313.5 941,322.5 L941,477.5" fill="none" stroke="#1e1e1e" stroke-width="2.07" />
<rect x="872.5" y="287.5" width="40.0" height="23.5" rx="0" fill="none" stroke="#555" stroke-width="1.59"/>
<rect x="875.0" y="290.0" width="16.0" height="19.0" rx="0" fill="none" stroke="#666" stroke-width="1.59"/>
<rect x="895.0" y="290.0" width="15.5" height="19.0" rx="0" fill="none" stroke="#666" stroke-width="1.59"/>
<ellipse cx="883" cy="300" rx="1" ry="1" fill="#444" stroke="#444" stroke-width="1.22"/>
<ellipse cx="902.5" cy="300" rx="1" ry="1" fill="#444" stroke="#444" stroke-width="1.22"/>
<rect x="941.0" y="384.0" width="25.0" height="31.0" rx="0" fill="none" stroke="#555" stroke-width="1.59"/>
<ellipse cx="947.5" cy="391.5" rx="3.6" ry="3.6" fill="none" stroke="#555" stroke-width="1.46"/>
<ellipse cx="958.5" cy="391.5" rx="3.6" ry="3.6" fill="none" stroke="#555" stroke-width="1.46"/>
<ellipse cx="947.5" cy="407" rx="3.6" ry="3.6" fill="none" stroke="#555" stroke-width="1.46"/>
<ellipse cx="958.5" cy="407" rx="3.6" ry="3.6" fill="none" stroke="#555" stroke-width="1.46"/>
<polyline points="936.0,477.5 970.0,477.5 970.0,483.0 956.0,483.0 953.0,486.5 946.0,486.5 943.0,483.0 936.0,483.0 936.0,477.5" fill="none" stroke="#1e1e1e" stroke-width="1.83"/>
<text x="774.2" y="339.6" font-size="20.12" font-weight="bold" fill="#222" stroke="#222" stroke-width="0.55" stroke-linejoin="round" textLength="128.1" lengthAdjust="spacingAndGlyphs" xml:space="preserve" >GRANITE TOPS</text>
<path d="M856,352.5 L886,352.5 L886,411 L856,411 Z" fill="none" stroke="#1e1e1e" stroke-width="1.95" />
<polyline points="856.0,381.0 886.0,381.0" fill="none" stroke="#1e1e1e" stroke-width="1.83"/>
<rect x="859.0" y="384.0" width="24.0" height="24.0" rx="0" fill="none" stroke="#666" stroke-width="1.46"/>
<ellipse cx="871" cy="396" rx="2" ry="2.4" fill="none" stroke="#444" stroke-width="1.46"/>
<path d="M856,352.5 Q821,356 821,383 Q821,408 856,413.5" fill="none" stroke="#1e1e1e" stroke-width="1.95" />
<rect x="824.0" y="451.0" width="75.0" height="25.0" rx="0" fill="none" stroke="#1e1e1e" stroke-width="1.83"/>
<polyline points="859.0,451.0 859.0,476.0" fill="none" stroke="#1e1e1e" stroke-width="1.83"/>
<polyline points="899.0,470.0 904.0,470.0 904.0,482.5 817.5,482.5 817.5,476.0 899.0,476.0" fill="none" stroke="#1e1e1e" stroke-width="1.83"/>
<text x="826.7" y="466.6" font-size="9.52" font-weight="bold" fill="#333" stroke="#333" stroke-width="0.65" stroke-linejoin="round" textLength="25.1" lengthAdjust="spacingAndGlyphs" xml:space="preserve" >Pantry</text>
<text x="866.7" y="466.6" font-size="9.52" font-weight="bold" fill="#333" stroke="#333" stroke-width="0.65" stroke-linejoin="round" textLength="26.1" lengthAdjust="spacingAndGlyphs" xml:space="preserve" >Ref.</text>
<polygon points="969.6,299.5 1165.1,295.5 1164.9,289.5 969.4,293.5" fill="#dcdcdc" stroke="none"/>
<polyline points="969.6,299.5 1165.1,295.5" fill="none" stroke="#1e1e1e" stroke-width="1.95"/>
<polyline points="969.4,293.5 1164.9,289.5" fill="none" stroke="#1e1e1e" stroke-width="1.95"/>
<rect x="992.5" y="297.5" width="6.5" height="18.5" rx="0" fill="none" stroke="#1e1e1e" stroke-width="1.83"/>
<rect x="993.5" y="313.0" width="4.5" height="3.5" rx="0" fill="#444" stroke="#1e1e1e" stroke-width="1.22"/>
<polyline points="999.0,319.0 1016.0,334.0 999.0,349.0" fill="none" stroke="#6a6a6a" stroke-width="1.71"/>
<polyline points="999.0,376.0 1016.0,390.0 996.0,407.5" fill="none" stroke="#6a6a6a" stroke-width="1.71"/>
<polyline points="970.0,412.5 1000.0,412.5" fill="none" stroke="#1e1e1e" stroke-width="1.83"/>
<polyline points="970.0,416.5 994.0,416.5" fill="none" stroke="#1e1e1e" stroke-width="1.59"/>
<rect x="994.0" y="408.0" width="6.0" height="9.0" rx="0" fill="none" stroke="#1e1e1e" stroke-width="1.59"/>
<polyline points="972.5,465.5 997.5,446.0" fill="none" stroke="#1e1e1e" stroke-width="1.83"/>
<path d="M997.5,446 Q1008,452 1010,466" fill="none" stroke="#9a9a9a" stroke-width="1.59" />
<text x="1040.7" y="383.4" font-size="14.72" font-weight="bold" fill="#2e2e2e" stroke="#2e2e2e" stroke-width="0.65" stroke-linejoin="round" textLength="71.9" lengthAdjust="spacingAndGlyphs" xml:space="preserve" >BEDROOM 3</text>
<text x="1052.2" y="399.0" font-size="12.42" font-weight="bold" fill="#2e2e2e" stroke="#2e2e2e" stroke-width="0.65" stroke-linejoin="round" textLength="48.6" lengthAdjust="spacingAndGlyphs" xml:space="preserve" >10' FLAT</text>
<polygon points="1010.0,467.2 1168.0,467.2 1168.0,460.8 1010.0,460.8" fill="#e0e0e0" stroke="none"/>
<polyline points="1010.0,467.2 1168.0,467.2" fill="none" stroke="#1e1e1e" stroke-width="1.95"/>
<polyline points="1010.0,460.8 1168.0,460.8" fill="none" stroke="#1e1e1e" stroke-width="1.95"/>
<polyline points="1010.0,467.2 1010.0,460.8" fill="none" stroke="#1e1e1e" stroke-width="1.95"/>
<rect x="1011.0" y="467.0" width="7.0" height="9.0" rx="0" fill="none" stroke="#1e1e1e" stroke-width="1.59"/>
<polyline points="1016.0,474.0 1040.0,500.0" fill="none" stroke="#1e1e1e" stroke-width="1.83"/>
<path d="M1040,500 Q1028,510 1016,512" fill="none" stroke="#9a9a9a" stroke-width="1.59" />
<text x="1050.7" y="500.6" font-size="18.97" font-weight="bold" fill="#222" stroke="#222" stroke-width="0.60" stroke-linejoin="round" textLength="62.1" lengthAdjust="spacingAndGlyphs" xml:space="preserve" >BATH 3</text>
<polyline points="1012.5,514.0 1019.0,514.0 1019.0,532.0 1029.0,545.5 1170.0,545.5" fill="none" stroke="#1e1e1e" stroke-width="2.26"/>
<polyline points="1012.5,514.0 1012.5,535.0 1027.0,552.0 1172.0,552.0" fill="none" stroke="#1e1e1e" stroke-width="2.26"/>
<polyline points="1020.0,520.0 1095.0,520.0" fill="none" stroke="#1e1e1e" stroke-width="1.71"/>
<polyline points="1095.0,520.0 1095.0,545.0" fill="none" stroke="#777" stroke-width="1.46"/>
<ellipse cx="1055" cy="533.5" rx="12.5" ry="8.5" fill="none" stroke="#1e1e1e" stroke-width="2.68"/>
<ellipse cx="1109" cy="524" rx="10" ry="14" fill="none" stroke="#666" stroke-width="1.71"/>
<rect x="1097.5" y="536.0" width="23.0" height="7.0" rx="0" fill="#ddd" stroke="#666" stroke-width="1.59"/>
<rect x="1134.0" y="470.0" width="34.0" height="74.0" rx="0" fill="none" stroke="#8a8a8a" stroke-width="1.59"/>
<rect x="1139.0" y="476.0" width="24.0" height="64.0" rx="6" fill="none" stroke="#aaa" stroke-width="1.22"/>
<ellipse cx="1151" cy="534" rx="1" ry="1" fill="#888" stroke="#888" stroke-width="1.22"/>
<rect x="855.5" y="527.5" width="6" height="177" fill="#d9d9d9"/>
<polyline points="855.5,527.5 855.5,705.0" fill="none" stroke="#1e1e1e" stroke-width="2.26"/>
<polyline points="861.5,527.5 861.5,705.0" fill="none" stroke="#1e1e1e" stroke-width="2.26"/>
<polyline points="855.5,527.5 861.5,527.5" fill="none" stroke="#1e1e1e" stroke-width="2.26"/>
<polyline points="860.5,705.0 860.5,780.0 874.0,805.5 867.0,809.0 854.0,783.0 852.5,789.0" fill="none" stroke="#1e1e1e" stroke-width="2.26"/>
<polyline points="866.0,532.5 900.0,557.5" fill="none" stroke="#1e1e1e" stroke-width="1.83"/>
<path d="M900,557.5 Q912,545 914,530" fill="none" stroke="#9a9a9a" stroke-width="1.59" />
<polyline points="914.0,531.0 914.0,526.0 948.0,526.0 948.0,523.0 956.0,523.0 956.0,531.5 948.0,531.5 948.0,530.0 921.0,530.0" fill="none" stroke="#1e1e1e" stroke-width="2.26"/>
<polyline points="921.0,530.0 921.0,569.0 950.5,569.0" fill="none" stroke="#1e1e1e" stroke-width="2.26"/>
<polyline points="927.5,531.0 927.5,563.5 950.5,563.5 967.5,544.0" fill="none" stroke="#1e1e1e" stroke-width="2.26"/>
<polyline points="862.5,707.5 892.5,684.0" fill="none" stroke="#1e1e1e" stroke-width="1.83"/>
<path d="M892.5,684 Q900,690 901,701" fill="none" stroke="#9a9a9a" stroke-width="1.59" />
<polygon points="901.0,706.3 950.5,706.3 950.5,701.3 901.0,701.3" fill="#c9c9c9" stroke="none"/>
<polyline points="901.0,706.3 950.5,706.3" fill="none" stroke="#1e1e1e" stroke-width="1.83"/>
<polyline points="901.0,701.3 950.5,701.3" fill="none" stroke="#1e1e1e" stroke-width="1.83"/>
<polyline points="901.0,706.3 901.0,701.3" fill="none" stroke="#1e1e1e" stroke-width="1.83"/>
<text x="867.2" y="618.1" font-size="22.62" font-weight="bold" fill="#2a2a2a" stroke="#2a2a2a" stroke-width="0.20" stroke-linejoin="round" textLength="78.1" lengthAdjust="spacingAndGlyphs" xml:space="preserve" >LAUNDRY</text>
<polyline points="950.5,563.5 950.5,717.5 980.5,763.0 986.0,759.5 956.5,715.0 956.5,569.0" fill="none" stroke="#1e1e1e" stroke-width="2.26"/>
<polyline points="996.0,582.0 996.0,705.0 1003.0,717.5 1022.0,748.0" fill="none" stroke="#1e1e1e" stroke-width="2.26"/>
<polyline points="1003.5,578.0 1003.5,708.0 1012.0,722.0" fill="none" stroke="#1e1e1e" stroke-width="1.95"/>
<rect x="996.5" y="577.0" width="7.0" height="7.0" rx="0" fill="none" stroke="#1e1e1e" stroke-width="1.59"/>
<polyline points="956.5,585.0 996.0,585.0" fill="none" stroke="#4a4a4a" stroke-width="1.95"/>
<polyline points="956.5,601.0 996.0,601.0" fill="none" stroke="#4a4a4a" stroke-width="1.95"/>
<polyline points="956.5,617.5 996.0,617.5" fill="none" stroke="#4a4a4a" stroke-width="1.95"/>
<polyline points="956.5,635.0 996.0,635.0" fill="none" stroke="#4a4a4a" stroke-width="1.95"/>
<polyline points="956.5,652.5 996.0,652.5" fill="none" stroke="#4a4a4a" stroke-width="1.95"/>
<polyline points="956.5,669.0 996.0,669.0" fill="none" stroke="#4a4a4a" stroke-width="1.95"/>
<polyline points="956.5,685.0 996.0,685.0" fill="none" stroke="#4a4a4a" stroke-width="1.95"/>
<polyline points="956.5,701.0 996.0,701.0" fill="none" stroke="#4a4a4a" stroke-width="1.95"/>
<polyline points="962.5,724.0 998.0,705.5" fill="none" stroke="#4a4a4a" stroke-width="1.95"/>
<polyline points="969.5,735.0 1003.5,717.0" fill="none" stroke="#4a4a4a" stroke-width="1.95"/>
<polyline points="976.0,746.0 1009.0,729.5" fill="none" stroke="#4a4a4a" stroke-width="1.95"/>
<polyline points="982.5,757.5 1016.0,741.5" fill="none" stroke="#4a4a4a" stroke-width="1.95"/>
<path d="M967.5,544 Q1000,532 1026,556 Q1022,574 1004,578" fill="none" stroke="#9a9a9a" stroke-width="1.59" />
<text x="961.7" y="558.6" font-size="8.96" font-weight="bold" fill="#333" stroke="#333" stroke-width="0.65" stroke-linejoin="round" textLength="23.1" lengthAdjust="spacingAndGlyphs" xml:space="preserve" >STEPS</text>
<text x="961.7" y="570.6" font-size="8.96" font-weight="bold" fill="#333" stroke="#333" stroke-width="0.65" stroke-linejoin="round" textLength="37.1" lengthAdjust="spacingAndGlyphs" xml:space="preserve" >TO BONUS</text>
<text x="961.7" y="582.6" font-size="8.96" font-weight="bold" fill="#333" stroke="#333" stroke-width="0.65" stroke-linejoin="round" textLength="23.1" lengthAdjust="spacingAndGlyphs" xml:space="preserve" >ROOM</text>
<path d="M975,598 L975,630" stroke="#111" stroke-width="3.4" fill="none"/><polygon points="968.5,624 981.5,624 975,637.5" fill="#111"/><polygon points="968,594 975,601 982,594 979.5,607 975,602 970.5,607" fill="#111"/>
<polyline points="1022.5,742.5 1162.0,742.5 1167.5,737.5" fill="none" stroke="#1e1e1e" stroke-width="2.26"/>
<polyline points="1026.5,749.0 1159.0,749.0 1169.0,738.5 1183.0,732.0" fill="none" stroke="#1e1e1e" stroke-width="2.26"/>
<rect x="1012.5" y="714.0" width="15.0" height="3.5" rx="0" fill="#666" stroke="#1e1e1e" stroke-width="1.46"/>
<polyline points="1028.0,716.0 1040.0,701.0 1052.0,716.0" fill="none" stroke="#9a9a9a" stroke-width="1.59"/>
<polyline points="1068.0,716.0 1080.0,701.0 1092.0,716.0" fill="none" stroke="#9a9a9a" stroke-width="1.59"/>
<polyline points="1102.0,716.0 1114.0,701.0 1126.0,716.0" fill="none" stroke="#9a9a9a" stroke-width="1.59"/>
<polyline points="1140.0,716.0 1152.5,701.0 1165.0,716.0" fill="none" stroke="#9a9a9a" stroke-width="1.59"/>
<rect x="1091.5" y="714.0" width="7.0" height="3.5" rx="1.5" fill="#111" stroke="#111" stroke-width="1.22"/>
<rect x="1163.5" y="716.0" width="8.0" height="21.5" rx="0" fill="#b5b5b5" stroke="#1e1e1e" stroke-width="1.59"/>
<text x="1051.7" y="636.9" font-size="16.1" font-weight="bold" fill="#2e2e2e" stroke="#2e2e2e" stroke-width="0.65" stroke-linejoin="round" textLength="92.1" lengthAdjust="spacingAndGlyphs" xml:space="preserve" >BEDROOM 2</text>
<text x="1067.2" y="654.9" font-size="16.1" font-weight="bold" fill="#2e2e2e" stroke="#2e2e2e" stroke-width="0.65" stroke-linejoin="round" textLength="62.6" lengthAdjust="spacingAndGlyphs" xml:space="preserve" >10' FLAT</text>
<polyline points="1176.0,705.0 1178.0,700.0 1201.5,746.0 1195.0,750.0 1169.5,705.0" fill="none" stroke="#1e1e1e" stroke-width="2.26"/>
<path d="M1201.5,748 Q1214,742 1226,747" fill="none" stroke="#9a9a9a" stroke-width="1.59" />
<polyline points="1226.5,747.0 1217.5,779.0" fill="none" stroke="#1e1e1e" stroke-width="1.83"/>
<rect x="426.0" y="777.5" width="25.0" height="20.0" rx="0" fill="none" stroke="#1e1e1e" stroke-width="2.20"/>
<rect x="565.0" y="774.0" width="24.0" height="22.0" rx="0" fill="none" stroke="#1e1e1e" stroke-width="2.20"/>
<rect x="701.0" y="772.0" width="21.0" height="21.0" rx="0" fill="none" stroke="#1e1e1e" stroke-width="2.20"/>
<rect x="839.8" y="767.8" width="13.5" height="21.0" rx="0" fill="none" stroke="#1e1e1e" stroke-width="2.20"/>
<polyline points="451.0,781.5 565.0,781.5" fill="none" stroke="#1e1e1e" stroke-width="2.26"/>
<polyline points="451.0,789.0 565.0,789.0" fill="none" stroke="#1e1e1e" stroke-width="2.26"/>
<polyline points="722.0,775.3 839.8,775.3" fill="none" stroke="#1e1e1e" stroke-width="2.26"/>
<polyline points="722.0,784.6 839.8,784.6" fill="none" stroke="#1e1e1e" stroke-width="2.26"/>
<text x="1391" y="572" font-size="30.5" font-weight="normal" fill="#e2e2e2" textLength="118.5" lengthAdjust="spacingAndGlyphs">StellarMLS</text>
<text x="1427" y="607.8" font-size="22" font-weight="normal" fill="#e2e2e2" textLength="96" lengthAdjust="spacingAndGlyphs">StellarMLS</text>
<text x="1189.7" y="236.6" font-size="35.34" font-weight="bold" fill="#161616" stroke="#161616" stroke-width="0.10" stroke-linejoin="round" textLength="208.1" lengthAdjust="spacingAndGlyphs" xml:space="preserve" >4 BEDROOM</text>
<text x="1189.7" y="278.1" font-size="35.34" font-weight="bold" fill="#161616" stroke="#161616" stroke-width="0.10" stroke-linejoin="round" textLength="221.6" lengthAdjust="spacingAndGlyphs" xml:space="preserve" >4 FULL BATH</text>
<text x="1189.7" y="320.6" font-size="35.34" font-weight="bold" fill="#161616" stroke="#161616" stroke-width="0.10" stroke-linejoin="round" textLength="264.6" lengthAdjust="spacingAndGlyphs" xml:space="preserve" >3 CAR GARAGE</text>
<text x="1190.7" y="403.1" font-size="35.34" font-weight="bold" fill="#161616" stroke="#161616" stroke-width="0.10" stroke-linejoin="round" textLength="248.6" lengthAdjust="spacingAndGlyphs" xml:space="preserve" >Living -  -  3218</text>
<text x="1190.7" y="444.6" font-size="35.34" font-weight="bold" fill="#161616" stroke="#161616" stroke-width="0.10" stroke-linejoin="round" textLength="248.6" lengthAdjust="spacingAndGlyphs" xml:space="preserve" >Bonus Rm  474</text>
<text x="1190.7" y="486.6" font-size="35.34" font-weight="bold" fill="#161616" stroke="#161616" stroke-width="0.10" stroke-linejoin="round" textLength="243.6" lengthAdjust="spacingAndGlyphs" xml:space="preserve" >Entry -  -  -  221</text>
<text x="1190.7" y="528.1" font-size="35.34" font-weight="bold" fill="#161616" stroke="#161616" stroke-width="0.10" stroke-linejoin="round" textLength="245.6" lengthAdjust="spacingAndGlyphs" xml:space="preserve" >Garage -  -  939</text>
<text x="1190.7" y="570.1" font-size="35.34" font-weight="bold" fill="#161616" stroke="#161616" stroke-width="0.10" stroke-linejoin="round" textLength="242.1" lengthAdjust="spacingAndGlyphs" xml:space="preserve" >Back porch560</text>
<text x="1259.7" y="611.6" font-size="35.34" font-weight="bold" fill="#161616" stroke="#161616" stroke-width="0.10" stroke-linejoin="round" textLength="174.6" lengthAdjust="spacingAndGlyphs" xml:space="preserve" >Total 5,412</text>
<text x="1210.7" y="653.1" font-size="35.34" font-weight="bold" fill="#161616" stroke="#161616" stroke-width="0.10" stroke-linejoin="round" textLength="228.6" lengthAdjust="spacingAndGlyphs" xml:space="preserve" >UNDER ROOF</text>
<path d="M369,806 Q366,822 374.5,836 L387,870" fill="none" stroke="#555" stroke-width="1.83" />
<path d="M378,800 Q372,820 381.5,834 L394,868" fill="none" stroke="#555" stroke-width="1.83" />
<polyline points="375.0,814.0 429.0,808.5" fill="none" stroke="#4a4a4a" stroke-width="1.83"/>
<polyline points="378.0,829.5 433.0,819.5" fill="none" stroke="#4a4a4a" stroke-width="1.83"/>
<polyline points="383.0,842.5 439.0,829.5" fill="none" stroke="#4a4a4a" stroke-width="1.83"/>
<polyline points="388.0,853.0 445.0,840.0" fill="none" stroke="#4a4a4a" stroke-width="1.83"/>
<polyline points="429.4,800.7 478.9,902.7" fill="none" stroke="#1e1e1e" stroke-width="2.07"/>
<polyline points="436.6,797.3 486.1,899.3" fill="none" stroke="#1e1e1e" stroke-width="2.07"/>
<polyline points="478.9,902.7 486.1,899.3" fill="none" stroke="#1e1e1e" stroke-width="2.07"/>
<text x="404.0" y="858.6" font-size="8.96" font-weight="bold" fill="#333" stroke="#333" stroke-width="0.65" stroke-linejoin="round" textLength="32.0" lengthAdjust="spacingAndGlyphs" xml:space="preserve" transform="rotate(-19 420 858)" >STEPS</text>
<text x="409.0" y="869.1" font-size="8.96" font-weight="bold" fill="#333" stroke="#333" stroke-width="0.65" stroke-linejoin="round" textLength="29.0" lengthAdjust="spacingAndGlyphs" xml:space="preserve" transform="rotate(-19 423 868.5)" >DOWN</text>
<polyline points="456.5,833.8 611.0,817.5 632.5,892.5 650.0,899.0 654.0,900.5" fill="none" stroke="#1e1e1e" stroke-width="2.26"/>
<polyline points="459.5,841.2 606.0,825.5 625.0,890.5" fill="none" stroke="#1e1e1e" stroke-width="2.26"/>
<polygon points="537.2,834.0 537.2,863.9 514.8,886.3 482.3,888.3 482.7,893.7 517.2,891.7 542.8,866.1 542.8,834.0" fill="#c4c4c4" stroke="none"/>
<polyline points="537.2,834.0 537.2,863.9 514.8,886.3 482.3,888.3" fill="none" stroke="#1e1e1e" stroke-width="1.95"/>
<polyline points="542.8,834.0 542.8,866.1 517.2,891.7 482.7,893.7" fill="none" stroke="#1e1e1e" stroke-width="1.95"/>
<polyline points="540.0,834.0 540.0,865.0 516.0,889.0 482.5,891.0" fill="none" stroke="#1e1e1e" stroke-width="1.37"/>
<text x="472.2" y="860.6" font-size="20.12" font-weight="bold" fill="#222" stroke="#222" stroke-width="0.20" stroke-linejoin="round" textLength="55.6" lengthAdjust="spacingAndGlyphs" xml:space="preserve" >shower</text>
<rect x="567.5" y="834.0" width="21.5" height="6.0" rx="0" fill="#ddd" stroke="#777" stroke-width="1.46"/>
<ellipse cx="579" cy="853" rx="9.5" ry="13.5" fill="none" stroke="#666" stroke-width="1.71"/>
<ellipse cx="579" cy="851" rx="7" ry="9" fill="none" stroke="#999" stroke-width="1.22"/>
<text x="545.7" y="886.6" font-size="15.52" font-weight="bold" fill="#333" stroke="#333" stroke-width="0.65" stroke-linejoin="round" textLength="59.6" lengthAdjust="spacingAndGlyphs" xml:space="preserve" >Bath #4</text>
<polygon points="557.5,930.0 625.0,889.0 632.5,907.5 566.0,949.5" fill="none" stroke="#1e1e1e" stroke-width="1.95"/>
<ellipse cx="594" cy="919" rx="12" ry="7" fill="none" stroke="#1e1e1e" stroke-width="2.20" transform="rotate(-31 594 919)"/>
<polyline points="505.0,945.0 505.0,951.0 566.0,950.0" fill="none" stroke="#1e1e1e" stroke-width="2.26"/>
<polyline points="505.0,945.0 510.0,944.5 510.0,948.0" fill="none" stroke="#1e1e1e" stroke-width="1.59"/>
<polyline points="479.0,907.5 477.5,944.0 500.0,945.5" fill="none" stroke="#9a9a9a" stroke-width="1.71"/>
<polyline points="625.0,890.5 650.0,899.5" fill="none" stroke="#1e1e1e" stroke-width="1.59"/>
<polyline points="384.4,874.9 309.7,912.5 384.9,1047.7" fill="none" stroke="#1e1e1e" stroke-width="2.07"/>
<polyline points="387.6,881.1 319.3,915.5 391.1,1044.3" fill="none" stroke="#1e1e1e" stroke-width="2.07"/>
<polyline points="380.3,1025.9 447.3,990.9" fill="none" stroke="#1e1e1e" stroke-width="2.07"/>
<polyline points="377.7,1021.1 444.7,986.1" fill="none" stroke="#1e1e1e" stroke-width="2.07"/>
<polyline points="428.2,966.1 440.7,988.6" fill="none" stroke="#1e1e1e" stroke-width="2.07"/>
<polyline points="433.8,962.9 446.3,985.4" fill="none" stroke="#1e1e1e" stroke-width="2.07"/>
<polyline points="428.2,966.1 433.8,962.9" fill="none" stroke="#1e1e1e" stroke-width="2.07"/>
<polyline points="384.0,879.1 401.5,921.1" fill="none" stroke="#1e1e1e" stroke-width="2.07"/>
<polyline points="389.0,876.9 406.5,918.9" fill="none" stroke="#1e1e1e" stroke-width="2.07"/>
<polyline points="401.5,921.1 406.5,918.9" fill="none" stroke="#1e1e1e" stroke-width="2.07"/>
<polyline points="404.0,920.0 444.0,940.5" fill="none" stroke="#1e1e1e" stroke-width="1.83"/>
<path d="M444,940.5 Q445,955 432,965" fill="none" stroke="#9a9a9a" stroke-width="1.59" />
<polyline points="386.6,1043.4 338.6,1069.9" fill="none" stroke="#1e1e1e" stroke-width="1.95"/>
<polyline points="389.4,1048.6 341.4,1075.1" fill="none" stroke="#1e1e1e" stroke-width="1.95"/>
<path d="M337.5,1072.5 C326,1090 322,1112 325,1124 C329,1142 345,1158 382.5,1170" fill="none" stroke="#4a4a4a" stroke-width="1.83" />
<polyline points="355.0,1062.5 366.0,1084.0 372.5,1080.5" fill="none" stroke="#1e1e1e" stroke-width="1.83"/>
<polyline points="361.0,1060.0 371.0,1079.0" fill="none" stroke="#1e1e1e" stroke-width="1.59"/>
<polyline points="367.5,1081.0 399.0,1066.0" fill="none" stroke="#1e1e1e" stroke-width="1.95"/>
<path d="M399,1066 Q410,1090 392,1107" fill="none" stroke="#9a9a9a" stroke-width="1.59" />
<path d="M392,1107 Q418,1104 435,1122" fill="none" stroke="#9a9a9a" stroke-width="1.59" />
<polyline points="434.7,1121.8 406.2,1138.3" fill="none" stroke="#1e1e1e" stroke-width="1.83"/>
<polyline points="437.3,1126.2 408.8,1142.7" fill="none" stroke="#1e1e1e" stroke-width="1.83"/>
<polyline points="434.7,1121.8 437.3,1126.2" fill="none" stroke="#1e1e1e" stroke-width="1.83"/>
<polyline points="406.2,1138.3 408.8,1142.7" fill="none" stroke="#1e1e1e" stroke-width="1.83"/>
<polyline points="408.8,1151.7 438.7,1137.4 457.4,1172.4" fill="none" stroke="#1e1e1e" stroke-width="1.95"/>
<polyline points="406.2,1146.3 441.3,1129.6 462.6,1169.6" fill="none" stroke="#1e1e1e" stroke-width="1.95"/>
<polyline points="408.8,1151.7 406.2,1146.3" fill="none" stroke="#1e1e1e" stroke-width="1.95"/>
<polyline points="382.5,1170.0 407.5,1153.0" fill="none" stroke="#1e1e1e" stroke-width="1.71"/>
<polyline points="386.0,1172.0 409.0,1157.0" fill="none" stroke="#1e1e1e" stroke-width="1.46"/>
<text x="329.7" y="1126.6" font-size="22.62" font-weight="bold" fill="#222" stroke="#222" stroke-width="0.20" stroke-linejoin="round" textLength="61.6" lengthAdjust="spacingAndGlyphs" xml:space="preserve" >Balcony</text>
<text x="472.2" y="1034.4" font-size="22.39" font-weight="bold" fill="#1e1e1e" stroke="#1e1e1e" stroke-width="0.90" stroke-linejoin="round" textLength="156.1" lengthAdjust="spacingAndGlyphs" xml:space="preserve" >BONUS ROOM</text>
<text x="472.2" y="1061.4" font-size="22.39" font-weight="bold" fill="#1e1e1e" stroke="#1e1e1e" stroke-width="0.90" stroke-linejoin="round" textLength="168.6" lengthAdjust="spacingAndGlyphs" xml:space="preserve" >OVER GARAGE</text>
<text x="489.7" y="1087.9" font-size="22.39" font-weight="bold" fill="#1e1e1e" stroke="#1e1e1e" stroke-width="0.90" stroke-linejoin="round" textLength="113.1" lengthAdjust="spacingAndGlyphs" xml:space="preserve" >474 Sq. Ft.</text>
<polyline points="653.9,902.8 699.4,874.8" fill="none" stroke="#1e1e1e" stroke-width="1.83"/>
<polyline points="651.1,898.2 696.6,870.2" fill="none" stroke="#1e1e1e" stroke-width="1.83"/>
<polyline points="696.0,871.0 702.5,884.0" fill="none" stroke="#1e1e1e" stroke-width="1.83"/>
<polyline points="700.0,869.5 706.5,882.0" fill="none" stroke="#1e1e1e" stroke-width="1.59"/>
<polyline points="673.3,901.6 699.8,888.6" fill="none" stroke="#1e1e1e" stroke-width="1.71"/>
<polyline points="671.7,898.4 698.2,885.4" fill="none" stroke="#1e1e1e" stroke-width="1.71"/>
<polyline points="673.3,901.6 671.7,898.4" fill="none" stroke="#1e1e1e" stroke-width="1.71"/>
<polyline points="699.8,888.6 698.2,885.4" fill="none" stroke="#1e1e1e" stroke-width="1.71"/>
<path d="M700,870.5 A54.5,54.5 0 1 1 747.5,963" fill="none" stroke="#333" stroke-width="1.83" />
<path d="M672.5,901.5 Q680,920 715,920" fill="none" stroke="#9a9a9a" stroke-width="1.59" />
<path d="M715,920 Q696,940 703.5,962" fill="none" stroke="#9a9a9a" stroke-width="1.59" />
<polyline points="704.4,964.1 734.4,951.6" fill="none" stroke="#1e1e1e" stroke-width="1.71"/>
<polyline points="703.1,960.9 733.1,948.4" fill="none" stroke="#1e1e1e" stroke-width="1.71"/>
<polyline points="704.4,964.1 703.1,960.9" fill="none" stroke="#1e1e1e" stroke-width="1.71"/>
<polyline points="734.4,951.6 733.1,948.4" fill="none" stroke="#1e1e1e" stroke-width="1.71"/>
<polyline points="733.8,950.0 738.8,950.0 744.0,962.5" fill="none" stroke="#1e1e1e" stroke-width="1.83"/>
<polyline points="733.8,950.0 738.0,961.0" fill="none" stroke="#1e1e1e" stroke-width="1.59"/>
<polyline points="744.7,961.8 693.7,986.8 681.6,1015.2 716.8,1072.9 630.8,1118.9 645.4,1142.6" fill="none" stroke="#1e1e1e" stroke-width="1.95"/>
<polyline points="747.3,967.2 698.3,991.2 688.4,1014.8 725.2,1075.1 639.2,1121.1 650.6,1139.4" fill="none" stroke="#1e1e1e" stroke-width="1.95"/>
<polyline points="678.4,1091.9 631.9,1120.5 646.8,1145.3 601.6,1169.4" fill="none" stroke="#1e1e1e" stroke-width="1.95"/>
<polyline points="681.6,1097.1 640.1,1122.5 655.2,1147.7 604.4,1174.6" fill="none" stroke="#1e1e1e" stroke-width="1.95"/>
<polyline points="545.0,1171.0 560.0,1161.0 569.0,1171.0" fill="none" stroke="#1e1e1e" stroke-width="1.83"/>
<polyline points="551.0,1171.0 560.0,1166.0 564.0,1171.0" fill="none" stroke="#1e1e1e" stroke-width="1.46"/>
<rect x="0" y="1170.5" width="1518" height="30" fill="#fff"/>
<polyline points="1215.6,784.3 1321.9,968.7 1257.1,1007.8 1265.5,1024.5 1253.8,1031.2" fill="none" stroke="#1e1e1e" stroke-width="2.07"/>
<polyline points="1222.0,780.5 1332.1,971.3 1266.9,1010.6 1275.5,1027.5 1257.6,1037.8" fill="none" stroke="#1e1e1e" stroke-width="2.07"/>
<polyline points="1215.6,784.3 1222.0,780.5" fill="none" stroke="#1e1e1e" stroke-width="2.07"/>
<polygon points="1253.7,1031.3 1173.2,1081.1 1177.2,1087.5 1257.7,1037.7" fill="#d6d6d6" stroke="none"/>
<polyline points="1253.7,1031.3 1173.2,1081.1" fill="none" stroke="#1e1e1e" stroke-width="1.59"/>
<polyline points="1257.7,1037.7 1177.2,1087.5" fill="none" stroke="#1e1e1e" stroke-width="1.59"/>
<polyline points="1255.7,1034.5 1175.2,1084.3" fill="none" stroke="#1e1e1e" stroke-width="1.11"/>
<polyline points="1253.7,1031.3 1257.7,1037.7" fill="none" stroke="#1e1e1e" stroke-width="1.59"/>
<polyline points="1173.2,1081.1 1177.2,1087.5" fill="none" stroke="#1e1e1e" stroke-width="1.59"/>
<polyline points="1173.6,1080.9 1159.2,1087.4 1148.1,1070.2 1084.8,1110.3 1075.9,1096.7" fill="none" stroke="#1e1e1e" stroke-width="2.07"/>
<polyline points="1176.8,1087.7 1156.4,1097.0 1145.9,1080.6 1082.6,1120.7 1069.7,1100.7" fill="none" stroke="#1e1e1e" stroke-width="2.07"/>
<polyline points="1075.9,1096.7 1069.7,1100.7" fill="none" stroke="#1e1e1e" stroke-width="2.07"/>
<line x1="1234.3" y1="1042.3" x2="1238.7" y2="1050.7" stroke="#333" stroke-width="2.2"/>
<line x1="1190.3" y1="1069.3" x2="1194.7" y2="1077.7" stroke="#333" stroke-width="2.2"/>
<polygon points="970.0,981.0 980.0,976.0 995.0,997.5 1010.0,984.0 1027.5,1010.0 1020.0,1015.0 1006.0,992.5 986.0,1009.0" fill="none" stroke="#1e1e1e" stroke-width="1.95"/>
<text x="1177.2" y="885.6" font-size="24.36" font-weight="bold" fill="#1e1e1e" stroke="#1e1e1e" stroke-width="0.60" stroke-linejoin="round" textLength="68.1" lengthAdjust="spacingAndGlyphs" xml:space="preserve" >3 CAR</text>
<text x="1162.2" y="913.4" font-size="24.36" font-weight="bold" fill="#1e1e1e" stroke="#1e1e1e" stroke-width="0.60" stroke-linejoin="round" textLength="99.1" lengthAdjust="spacingAndGlyphs" xml:space="preserve" >GARAGE</text>
<g transform="translate(985.9,817.5) rotate(-29.4)" fill="none" stroke="#262626" stroke-width="1.72">
<path d="M-58.5,-19.2 Q-56.0,-21.0 -51.0,-22.8 Q-46.0,-24.5 -34.0,-25.5 Q-22.0,-26.5 -14.5,-25.0 Q-7.0,-23.5 0.5,-23.0 Q8.0,-22.5 14.0,-22.8 Q20.0,-23.0 26.0,-24.4 Q32.0,-25.8 41.0,-26.1 Q50.0,-26.5 53.5,-25.2 Q57.0,-24.0 58.2,-21.5 Q59.5,-19.0 60.5,-9.5 Q61.5,0.0 60.5,9.5 Q59.5,19.0 58.2,21.0 Q57.0,23.0 53.2,23.5 Q49.4,24.0 39.2,24.1 Q29.0,24.2 19.5,23.7 Q10.0,23.2 -3.0,23.6 Q-16.0,24.1 -22.0,25.1 Q-28.0,26.0 -39.5,25.5 Q-51.0,25.0 -54.5,23.5 Q-58.0,22.0 -59.8,20.0 Q-61.5,18.0 -61.5,9.0 Q-61.5,0.0 -61.2,-8.8 Q-61.0,-17.5 -58.5,-19.2 Z" stroke-width="1.65"/>
<rect x="-22.5" y="-17.5" width="19.5" height="35" rx="5" fill="#b4b4b4" stroke="#222" stroke-width="1.98"/>
<path d="M-22.5,0 L-3,0 M-12.5,-17.5 L-12.5,17.5" stroke="#222" stroke-width="1.58"/>
<path d="M-20,-14 L-14.5,-14 L-14.5,-3 L-20,-3 Z M-20,3 L-14.5,3 L-14.5,14 L-20,14 Z" fill="#8a8a8a" stroke="none"/>
<circle cx="-7.7" cy="0" r="1.6" fill="#111" stroke="none"/>
<rect x="2" y="-18.5" width="6.8" height="37" rx="3.2" fill="#fff" stroke="#222" stroke-width="1.98"/>
<path d="M11,-16.5 L49,-13 M11,16.5 L48,12.7 M43,-12.8 L43.2,12.5" stroke-width="1.52"/>
<path d="M19,-5 Q18.5,-7 21,-6.5 L27,-4 Q29.5,-2 29.5,0 Q29.5,3 27,4.5 L21,5 Q18.8,5 19,3 Z" stroke-width="1.45"/>
<path d="M-39,-15.5 L-28,-16.5 M-38,16 Q-28,17 -20,22 M-53,-16 L-53,-12.5 M-53,13.5 L-53,17 M43.5,-14 L47,-14" stroke-width="1.45"/>
<circle cx="-33" cy="0" r="1.1" fill="#444" stroke="none"/>
<path d="M-27,-22 Q-30,-12 -26,-9 M-24,-24 L-24,-18" stroke-width="1.19" stroke="#4a4a4a"/>
</g>
<g transform="translate(1083.4,873.1) rotate(-31.4)" fill="none" stroke="#262626" stroke-width="1.85">
<path d="M-96,-32 Q-96,-34 -94,-34 L-3,-35.5 L-3,35.5 L-94.5,34.2 Q-96.5,34.2 -96.5,32 Z" stroke="#222" stroke-width="1.98"/>
<path d="M-92,-30 L-66,-30.5 L-61,-24 L-38,-24 L-30,-31 L-14,-31.2 L-12,-28 L-7,-28 L-7,28 L-12,28 L-14,31 L-30,31 L-38,24 L-61,24 L-66,30.5 L-92,30 Z" fill="#f4f4f4" stroke-width="1.45"/>
<path d="M-91,-27.0 L-8,-27.0" stroke="#5c5c5c" stroke-width="1.16"/>
<path d="M-91,-23.1 L-8,-23.1" stroke="#5c5c5c" stroke-width="1.16"/>
<path d="M-91,-19.3 L-8,-19.3" stroke="#5c5c5c" stroke-width="1.16"/>
<path d="M-91,-15.4 L-8,-15.4" stroke="#5c5c5c" stroke-width="1.16"/>
<path d="M-91,-11.6 L-8,-11.6" stroke="#5c5c5c" stroke-width="1.16"/>
<path d="M-91,-7.7 L-8,-7.7" stroke="#5c5c5c" stroke-width="1.16"/>
<path d="M-91,-3.8 L-8,-3.8" stroke="#5c5c5c" stroke-width="1.16"/>
<path d="M-91,0.0 L-8,0.0" stroke="#5c5c5c" stroke-width="1.16"/>
<path d="M-91,3.9 L-8,3.9" stroke="#5c5c5c" stroke-width="1.16"/>
<path d="M-91,7.7 L-8,7.7" stroke="#5c5c5c" stroke-width="1.16"/>
<path d="M-91,11.6 L-8,11.6" stroke="#5c5c5c" stroke-width="1.16"/>
<path d="M-91,15.5 L-8,15.5" stroke="#5c5c5c" stroke-width="1.16"/>
<path d="M-91,19.3 L-8,19.3" stroke="#5c5c5c" stroke-width="1.16"/>
<path d="M-91,23.2 L-8,23.2" stroke="#5c5c5c" stroke-width="1.16"/>
<path d="M-91,27.0 L-8,27.0" stroke="#5c5c5c" stroke-width="1.16"/>
<path d="M-66,-30.5 L-61,-24 L-38,-24 L-30,-31 Z M-66,30.5 L-61,24 L-38,24 L-30,31 Z" fill="#fff" stroke-width="1.45"/>
<path d="M-3,-35.5 L-3,35.5" stroke="#1a1a1a" stroke-width="3.04"/>
<path d="M-3,-35.5 L50,-34.5 Q56,-34 58,-33.5 L90,-32.5 Q100,-31 103,-20 Q106,0 103,20 Q100,31 92,32.5 L58,33.5 L50,34.5 L-3,35.5" stroke="#222" stroke-width="1.98"/>
<path d="M2,-31 L2,31 M2,-29 L24,-27 Q30,-26 32.5,-23.5 Q36.5,0 31,21.5 Q29,25 24,27 L2,29" stroke-width="1.52"/>
<path d="M32.5,-23.5 L54,-33.5 M31,21.5 L52,31.5 M54,-33.5 Q58.5,0 52,31.5 M59,-33 Q63.5,0 57.5,32.5 M38,-26 Q43,0 37,24" stroke-width="1.52"/>
<path d="M8,-31.2 L28,-30 L26,-33 L9,-33.8 Z M8,31.2 L28,30 L26,33 L9,33.8 Z" stroke-width="1.19"/>
<path d="M62,-15.5 L97,-14 M61,14 L96,13.5 M61,-31 Q80,-31 98,-25.5 M61,31 Q80,31 98,25.5" stroke-width="1.52"/>
<path d="M38.5,-35 L39.5,-41.5 L45,-42 L46,-35 M38.5,35 L39.5,41 L45,41.5 L46,35" stroke-width="1.58"/>
<path d="M-27,-33.3 L-18,-33.4 M-27,33 L-18,33.2" stroke-width="1.19" stroke="#555" stroke-dasharray="2 1.5"/>
</g>
<g transform="translate(1155.3,990.6) rotate(-33.7)" fill="none" stroke="#262626" stroke-width="1.72">
<path d="M-66,-32 L62,-31 Q72,-30.5 73,-22 Q75,0 73,22 Q72,30.5 62,31 L-66,32 Q-72,32 -72,26 L-72,-26 Q-72,-32 -66,-32 Z" stroke="#222" stroke-width="1.91"/>
<path d="M-60,-28.5 L58,-27.8 M-60,28.5 L58,27.8" stroke="#555" stroke-width="1.19"/>
<path d="M-69.6,-27 L-69.6,27 M-67.2,-27 L-67.2,27" stroke="#555" stroke-width="1.19"/>
<path d="M69.5,-25 Q72,0 69.5,25" stroke="#4a4a4a" stroke-width="1.32"/>
<path d="M-47,-26.5 Q-52,-25 -54,-16 Q-60,0 -54.5,16 Q-53,25 -48,26 L-36.5,22 Q-34,21 -33.6,18 Q-30.5,0 -32,-18 Q-32.3,-21 -35,-22 Z" stroke-width="1.65"/>
<path d="M-32.8,-21.2 L15,-20.8 M-34.8,21.6 L14.6,22.5" stroke-width="1.52"/>
<path d="M15,-20.8 Q19.5,0 14.6,22.5 M31.3,-29.5 Q46.5,-2 32.7,27.5 M15,-20.8 L31.3,-29.5 M14.6,22.5 L32.7,27.5" stroke-width="1.65"/>
<path d="M-25.6,-29.6 L21,-29.8 L11,-24.6 L-29,-24.6 Z M-25.6,29.6 L21,29.6 L11,25.6 L-30,25.2 Z" stroke-width="1.25"/>
<path d="M-24,-29.6 L-22,-24.6 M-4,-29.7 L-4,-24.6 M-24,29.6 L-22,25.3 M-4,29.6 L-4,25.5" stroke="#222" stroke-width="1.72"/>
</g>
<text x="713.7" y="906.1" font-size="20.7" font-weight="bold" fill="#222" stroke="#222" stroke-width="0.20" stroke-linejoin="round" textLength="70.6" lengthAdjust="spacingAndGlyphs" xml:space="preserve" >Balcony</text>
<rect x="1513.7" y="-4" width="2.5" height="1208" fill="#3c3c3c"/>
<rect x="0" y="0" width="1518" height="1.2" fill="#f1f1f1"/>
</svg>
</body></html>
